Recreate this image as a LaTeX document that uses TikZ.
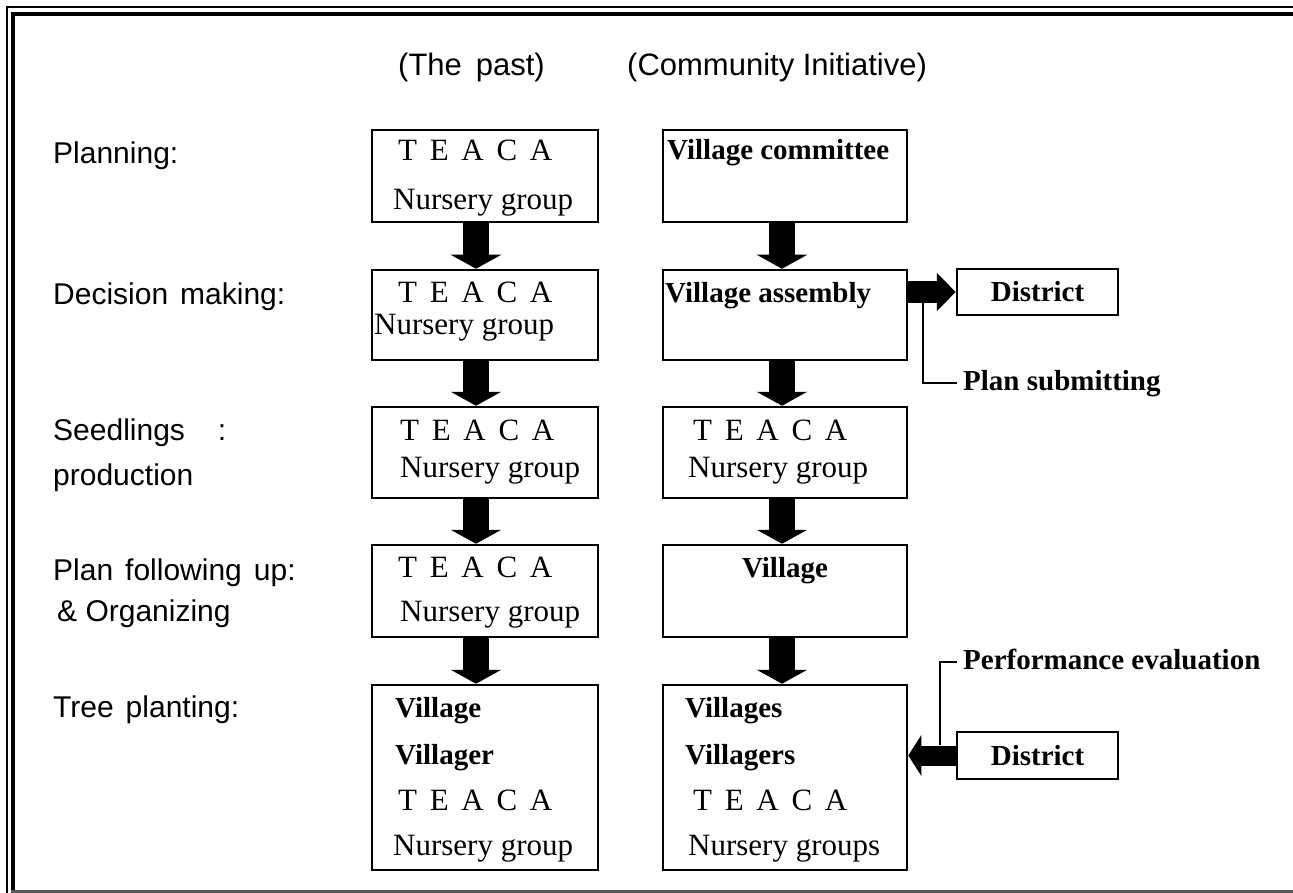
\documentclass[tikz,border=0pt]{standalone}
\usepackage{fontspec}
\setmainfont{Liberation Serif}
\newfontfamily\sflab{Liberation Sans}
\usetikzlibrary{arrows.meta}
\newcommand\teaca{T\hspace{12.7pt}E\hspace{12.7pt}A\hspace{12.7pt}C\hspace{12.7pt}A}
\begin{document}
\begin{tikzpicture}[x=1pt,y=-1pt,
  lab/.style={font=\sflab\fontsize{30}{36}\selectfont, anchor=west, inner sep=0pt, text height=21pt, text depth=6pt},
  hdr/.style={font=\sflab\fontsize{31}{36}\selectfont, anchor=west, inner sep=0pt, text height=22pt, text depth=6pt},
  rtxt/.style={font=\fontsize{31}{36}\selectfont, anchor=west, inner sep=0pt, text height=21pt, text depth=6pt},
  btxt/.style={font=\bfseries\fontsize{29}{34}\selectfont, anchor=west, inner sep=0pt, text height=20pt, text depth=6pt},
  stxt/.style={font=\bfseries\fontsize{29}{34}\selectfont, anchor=west, inner xsep=6pt, inner ysep=0pt, text height=20pt, text depth=6pt},
  stagebox/.style={draw=black, line width=2.5pt, inner sep=0pt},
  distbox/.style={draw=black, line width=2.5pt, inner sep=0pt, minimum width=161pt, font=\bfseries\fontsize{29}{34}\selectfont},
  varrow/.style={line width=26pt, -{Triangle[width=50pt,length=14pt]}},
  bracket/.style={line width=2pt}
]
\useasboundingbox (0,0) rectangle (1293,893);
\clip (0,0) rectangle (1293,893);
\fill[white] (0,0) rectangle (1293,893);
% outer frame
\draw[line width=1.5pt] (7,905) -- (7,7) -- (1305,7);
\draw[line width=4pt] (13,893) -- (13,14) -- (1305,14);
\draw[line width=3pt, black!65] (11,891) -- (1305,891);

% headers
\node[hdr] (hp) at (398,68) {(The\hspace{0.45em}past)};
\node[hdr] (hc) at (627,68) {(Community Initiative)};

% left labels
\node[lab] (l1) at (53,156) {Planning:};
\node[lab] (l2) at (53,297) {Decision\hspace{0.4em}making:};
\node[lab] (l3a) at (53,433) {Seedlings\hspace{33pt}:};
\node[lab] (l3b) at (53,478) {production};
\node[lab] (l4a) at (53,573) {Plan\hspace{0.4em}following\hspace{0.4em}up:};
\node[lab] (l4b) at (57,614) {\& Organizing};
\node[lab] (l5) at (53,710) {Tree\hspace{0.4em}planting:};

% left column boxes
\node[stagebox, minimum width=226pt, minimum height=92pt] (L1) at (485,176) {};
\node[stagebox, minimum width=226pt, minimum height=90pt] (L2) at (485,315) {};
\node[stagebox, minimum width=226pt, minimum height=91pt] (L3) at (485,452.5) {};
\node[stagebox, minimum width=226pt, minimum height=92pt] (L4) at (485,591) {};
\node[stagebox, minimum width=226pt, minimum height=185pt] (L5) at (485,777.5) {};

% right column boxes
\node[stagebox, minimum width=244pt, minimum height=92pt] (R1) at (785,176) {};
\node[stagebox, minimum width=244pt, minimum height=90pt] (R2) at (785,315) {};
\node[stagebox, minimum width=244pt, minimum height=91pt] (R3) at (785,452.5) {};
\node[stagebox, minimum width=244pt, minimum height=92pt] (R4) at (785,591) {};
\node[stagebox, minimum width=244pt, minimum height=185pt] (R5) at (785,777.5) {};

% district boxes
\node[distbox, minimum height=46pt] (D1) at (1037.5,292) {District};
\node[distbox, minimum height=47pt] (D2) at (1037.5,755.5) {District};

% texts in left boxes
\node[rtxt] (t11) at (398,153) {\teaca};
\node[rtxt] (t12) at (393,202) {Nursery group};
\node[rtxt] (t21) at (398,295) {\teaca};
\node[rtxt] (t22) at (374,327) {Nursery group};
\node[rtxt] (t31) at (400,433) {\teaca};
\node[rtxt] (t32) at (400,470) {Nursery group};
\node[rtxt] (t41) at (398,570) {\teaca};
\node[rtxt] (t42) at (400,614) {Nursery group};
\node[btxt] (t51) at (395,710) {Village};
\node[btxt] (t52) at (395,757) {Villager};
\node[rtxt] (t53) at (398,803) {\teaca};
\node[rtxt] (t54) at (393,848) {Nursery group};

% texts in right boxes
\node[btxt] (u11) at (667,153) {Village committee};
\node[btxt] (u21) at (665,295) {Village assembly};
\node[rtxt] (u31) at (693,433) {\teaca};
\node[rtxt] (u32) at (688,470) {Nursery group};
\node[btxt, anchor=center] (u41) at (785,570) {Village};
\node[btxt] (u51) at (685,710) {Villages};
\node[btxt] (u52) at (685,757) {Villagers};
\node[rtxt] (u53) at (693,803) {\teaca};
\node[rtxt] (u54) at (688,848) {Nursery groups};

% vertical block arrows
\foreach \a/\b in {L1/L2,L2/L3,L3/L4,L4/L5}
  \draw[varrow] ([xshift=-9pt]\a.south) -- ([xshift=-9pt]\b.north);
\foreach \a/\b in {R1/R2,R2/R3,R3/R4,R4/R5}
  \draw[varrow] ([xshift=-3pt]\a.south) -- ([xshift=-3pt]\b.north);

% horizontal arrows
\draw[line width=22pt, -{Triangle[width=37pt,length=19pt]}] (R2.east |- D1.west) -- (D1.west);
\draw[line width=20pt, -{Triangle[width=40pt,length=13pt]}] (D2.west) -- (R5.east |- D2.west);

% side labels with brackets
\node[stxt] (ps) at (957,383) {Plan submitting};
\node[stxt] (pe) at (957,662) {Performance evaluation};
\coordinate (psTop) at (923,300);
\coordinate (peBot) at (940,745);
\draw[bracket] (psTop) |- (ps.west);
\draw[bracket] (peBot) |- (pe.west);
\end{tikzpicture}
\end{document}
